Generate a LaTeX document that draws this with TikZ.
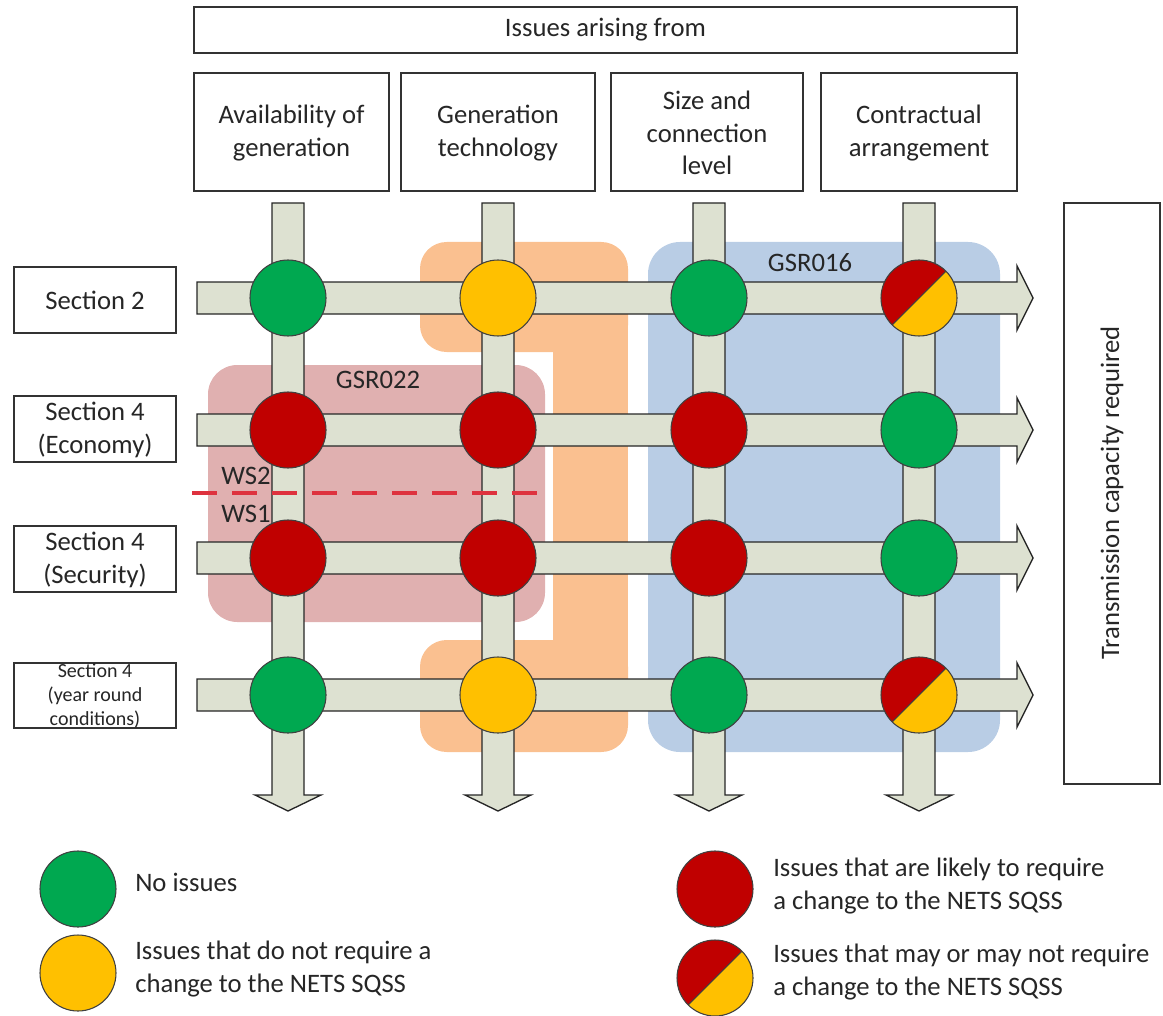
\documentclass[tikz,border=0pt]{standalone}
\usepackage{fontspec}
\setmainfont{Carlito}
\definecolor{barfill}{RGB}{221,225,209}
\definecolor{okgreen}{RGB}{0,168,80}
\definecolor{amber}{RGB}{255,192,0}
\definecolor{darkred}{RGB}{192,0,0}
\definecolor{bluebg}{RGB}{185,205,229}
\definecolor{orangebg}{RGB}{250,192,144}
\definecolor{redbg}{RGB}{224,176,176}
\definecolor{wsred}{RGB}{222,50,62}
\begin{document}
\begin{tikzpicture}[x=0.75pt,y=-0.75pt,
  every node/.style={text=black!85,font=\fontsize{20}{24.5}\selectfont,align=center},
  box/.style={draw=black!80,line width=1pt,fill=white},
  bar/.style={draw=black!85,line width=1pt,fill=barfill},
  dot/.style={circle,draw=black!75,line width=0.8pt,minimum size=57pt,inner sep=0pt},
  split/.style={dot,path picture={
    \fill[amber] (path picture bounding box.south west) rectangle (path picture bounding box.north east);
    \fill[darkred] (path picture bounding box.south west) -- (path picture bounding box.north west) -- (path picture bounding box.north east) -- cycle;
    \draw[black!75,line width=0.8pt] (path picture bounding box.south west) -- (path picture bounding box.north east);}},
  key/.style={anchor=west,inner sep=0pt,align=left}]
\useasboundingbox (0,0) rectangle (1163,1016);

% shaded groups
\fill[orangebg,rounded corners=20pt] (420,242) rectangle (628,352);
\fill[orangebg,rounded corners=20pt] (420,640) rectangle (628,752);
\fill[orangebg] (553,300) rectangle (628,700);
\fill[bluebg,rounded corners=24pt] (648,242) rectangle (1000,752);
\fill[redbg,rounded corners=22pt] (208,365) rectangle (545,622);
\node (gsr016) at (810,263) {GSR016};
\node (gsr022) at (378,380) {GSR022};

% headings
\draw[box] (194,7) rectangle (1017,53);
\node (top) at (605.5,30) {Issues arising from};
\draw[box] (194,73) rectangle (389,191);
\draw[box] (401,73) rectangle (595,191);
\draw[box] (611,73) rectangle (803,191);
\draw[box] (821,73) rectangle (1017,191);
\node (avail) at (291.5,133) {Availability of\\generation};
\node (tech) at (498,133) {Generation\\technology};
\node (size) at (707,133) {Size and\\connection\\level};
\node (contr) at (919,133) {Contractual\\arrangement};

\draw[box] (14,267) rectangle (176,333);
\draw[box] (14,396) rectangle (176,462);
\draw[box] (14,526) rectangle (176,592);
\draw[box] (14,663) rectangle (176,728);
\node (sec2) at (95,300) {Section 2};
\node (econ) at (95,430) {Section 4\\(Economy)};
\node (secu) at (95,560) {Section 4\\(Security)};
\node[font=\fontsize{15}{18}\selectfont] (year) at (95,695.5) {Section 4\\(year round\\conditions)};

\draw[box] (1064,203) rectangle (1160,784);
\node[rotate=90] (trans) at (1112,493) {Transmission capacity required};

% arrows
\foreach \x in {288,498,709,919}
  \filldraw[bar] (\x-16,203) -- (\x-16,795) -- (\x-33,795) -- (\x,811) -- (\x+33,795) -- (\x+16,795) -- (\x+16,203) -- cycle;
\foreach \y in {298,430,558,695}
  \filldraw[bar] (197,\y-16) -- (1017,\y-16) -- (1017,\y-32) -- (1033,\y) -- (1017,\y+32) -- (1017,\y+16) -- (197,\y+16) -- cycle;

% WS1 / WS2 split
\coordinate (wsl) at (192,493);
\coordinate (wsr) at (547,493);
\draw[wsred,line width=2.6pt,dash pattern=on 19pt off 11pt] (wsl) -- (wsr);
\node (ws2) at (246,476) {WS2};
\node (ws1) at (246,514) {WS1};

% assessment
\node[dot,fill=okgreen] (a11) at (288,298) {};
\node[dot,fill=amber] (a12) at (498,298) {};
\node[dot,fill=okgreen] (a13) at (709,298) {};
\node[split] (a14) at (919,298) {};
\node[dot,fill=darkred] (a21) at (288,430) {};
\node[dot,fill=darkred] (a22) at (498,430) {};
\node[dot,fill=darkred] (a23) at (709,430) {};
\node[dot,fill=okgreen] (a24) at (919,430) {};
\node[dot,fill=darkred] (a31) at (288,558) {};
\node[dot,fill=darkred] (a32) at (498,558) {};
\node[dot,fill=darkred] (a33) at (709,558) {};
\node[dot,fill=okgreen] (a34) at (919,558) {};
\node[dot,fill=okgreen] (a41) at (288,695) {};
\node[dot,fill=amber] (a42) at (498,695) {};
\node[dot,fill=okgreen] (a43) at (709,695) {};
\node[split] (a44) at (919,695) {};

% legend
\node[dot,fill=okgreen] (kg) at (78,889) {};
\node[dot,fill=amber] (ka) at (78,973) {};
\node[dot,fill=darkred] (kr) at (715,889) {};
\node[split] (ks) at (715,978) {};
\node[key] (kgt) at (135,882) {No issues};
\node[key] (kat) at (135,969) {Issues that do not require a\\change to the NETS SQSS};
\node[key] (krt) at (773,886) {Issues that are likely to require\\a change to the NETS SQSS};
\node[key] (kst) at (773,972) {Issues that may or may not require\\a change to the NETS SQSS};
\end{tikzpicture}
\end{document}
